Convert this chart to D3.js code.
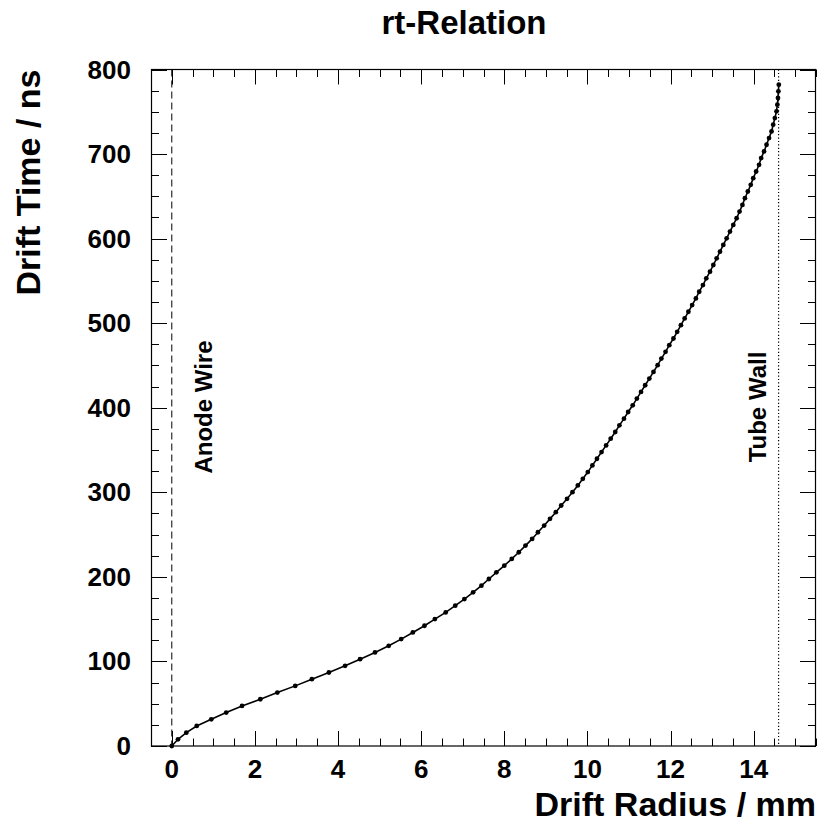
<!DOCTYPE html>
<html>
<head>
<meta charset="utf-8">
<script src="https://cdn.jsdelivr.net/npm/d3@7"></script>
<style>
  body { margin: 0; background: #fff; }
  svg { font-family: "Liberation Sans", Arial, Helvetica, sans-serif; font-weight: bold; }
</style>
</head>
<body>
<svg width="819" height="825"></svg>
<script>
// drift time samples (ns)
const driftTime = [
  0, 7.9, 15.8, 23.7, 31.6, 39.5, 47.4, 55.3, 63.2, 71.1,
  79.0, 86.9, 94.8, 102.7, 110.6, 118.5, 126.4, 134.3, 142.2, 150.1,
  158.0, 165.9, 173.8, 181.7, 189.6, 197.5, 205.4, 213.3, 221.2, 229.1,
  237.0, 244.9, 252.8, 260.7, 268.6, 276.5, 284.4, 292.3, 300.2, 308.1,
  316.0, 323.9, 331.8, 339.7, 347.6, 355.5, 363.4, 371.3, 379.2, 387.1,
  395.0, 402.9, 410.8, 418.7, 426.6, 434.5, 442.4, 450.3, 458.2, 466.1,
  474.0, 481.9, 489.8, 497.7, 505.6, 513.5, 521.4, 529.3, 537.2, 545.1,
  553.0, 560.9, 568.8, 576.7, 584.6, 592.5, 600.4, 608.3, 616.2, 624.1,
  632.0, 639.9, 647.8, 655.7, 663.6, 671.5, 679.4, 687.3, 695.2, 703.1,
  711.0, 718.9, 726.8, 734.7, 742.6, 750.5, 758.4, 766.3, 774.2, 782.1
];
// drift radius (mm)
const driftRadius = [
  0.00, 0.15, 0.35, 0.60, 0.95, 1.31, 1.69, 2.13, 2.54, 2.97,
  3.37, 3.78, 4.17, 4.53, 4.89, 5.22, 5.52, 5.80, 6.08, 6.33,
  6.59, 6.82, 7.04, 7.25, 7.45, 7.63, 7.81, 8.00, 8.18, 8.35,
  8.51, 8.67, 8.81, 8.96, 9.10, 9.24, 9.37, 9.51, 9.64, 9.77,
  9.89, 10.01, 10.12, 10.23, 10.34, 10.45, 10.56, 10.67, 10.77, 10.88,
  10.98, 11.09, 11.19, 11.29, 11.39, 11.49, 11.59, 11.69, 11.78, 11.88,
  11.97, 12.07, 12.16, 12.25, 12.34, 12.43, 12.52, 12.61, 12.69, 12.78,
  12.86, 12.95, 13.03, 13.11, 13.19, 13.27, 13.35, 13.43, 13.51, 13.59,
  13.66, 13.73, 13.79, 13.86, 13.93, 13.99, 14.06, 14.13, 14.18, 14.25,
  14.31, 14.37, 14.43, 14.47, 14.51, 14.55, 14.57, 14.585, 14.595, 14.605
];
const xTicks = [0, 2, 4, 6, 8, 10, 12, 14];
const yTicks = [0, 100, 200, 300, 400, 500, 600, 700, 800];
const anodeWire = 0;
const tubeWall = 14.6;

const svg = d3.select("svg");
const frameL = 151, frameR = 816, frameT = 69.5, frameB = 746;

const x = d3.scaleLinear().domain([-0.5, 15.5]).range([frameL, frameR]);
const y = d3.scaleLinear().domain([0, 800]).range([frameB, frameT]);

const data = driftTime.map((t, i) => ({ r: driftRadius[i], t: t }));

// minor / major ticks, drawn inward on all four sides
const xMinor = d3.range(-0.5, 15.51, 0.5);
const yMinor = d3.range(0, 800.1, 25);
const isMajorX = v => Math.abs(v / 2 - Math.round(v / 2)) < 1e-6;
const isMajorY = v => v % 100 === 0;

const ticks = svg.append("g").attr("stroke", "#000").attr("stroke-width", 1);
xMinor.forEach(v => {
  const len = isMajorX(v) ? 15 : 7.5;
  const px = Math.round(x(v)) + 0.5;
  ticks.append("line").attr("x1", px).attr("x2", px).attr("y1", frameB).attr("y2", frameB - len);
  ticks.append("line").attr("x1", px).attr("x2", px).attr("y1", frameT).attr("y2", frameT + len);
});
yMinor.forEach(v => {
  const len = isMajorY(v) ? 16 : 8;
  const py = Math.round(y(v)) + 0.5;
  ticks.append("line").attr("x1", frameL).attr("x2", frameL + len).attr("y1", py).attr("y2", py);
  ticks.append("line").attr("x1", frameR).attr("x2", frameR - len).attr("y1", py).attr("y2", py);
});

// frame
svg.append("rect")
  .attr("x", frameL + 0.5).attr("y", frameT)
  .attr("width", frameR - frameL - 1).attr("height", frameB - frameT)
  .attr("fill", "none").attr("stroke", "#000").attr("stroke-width", 1.2);

// tick labels
svg.append("g").selectAll("text").data(xTicks).enter().append("text")
  .attr("x", d => x(d)).attr("y", 778)
  .attr("text-anchor", "middle").attr("font-size", 26)
  .text(d => d);

svg.append("g").selectAll("text").data(yTicks).enter().append("text")
  .attr("x", 131).attr("y", d => y(d) + 9)
  .attr("text-anchor", "end").attr("font-size", 26)
  .text(d => d);

// reference lines
svg.append("line")
  .attr("x1", x(anodeWire)).attr("x2", x(anodeWire))
  .attr("y1", frameT).attr("y2", frameB)
  .attr("stroke", "#000").attr("stroke-width", 1).attr("stroke-dasharray", "7,4");

svg.append("line")
  .attr("x1", x(tubeWall)).attr("x2", x(tubeWall))
  .attr("y1", frameT).attr("y2", frameB)
  .attr("stroke", "#000").attr("stroke-width", 1.2).attr("stroke-dasharray", "1.2,2.2");

svg.append("text")
  .attr("transform", `translate(${x(anodeWire) + 40},407) rotate(-90)`)
  .attr("text-anchor", "middle").attr("font-size", 24)
  .text("Anode Wire");

svg.append("text")
  .attr("transform", `translate(${x(tubeWall) - 13},407) rotate(-90)`)
  .attr("text-anchor", "middle").attr("font-size", 24)
  .text("Tube Wall");

// curve
const line = d3.line().x(d => x(d.r)).y(d => y(d.t));
svg.append("path").datum(data)
  .attr("d", line)
  .attr("fill", "none").attr("stroke", "#000").attr("stroke-width", 1.6);

svg.append("g").selectAll("circle").data(data).enter().append("circle")
  .attr("cx", d => x(d.r)).attr("cy", d => y(d.t)).attr("r", 2.4)
  .attr("fill", "#000");

// titles
svg.append("text")
  .attr("x", 464).attr("y", 34)
  .attr("text-anchor", "middle").attr("font-size", 33)
  .text("rt-Relation");

svg.append("text")
  .attr("x", frameR).attr("y", 816)
  .attr("text-anchor", "end").attr("font-size", 34)
  .text("Drift Radius / mm");

svg.append("text")
  .attr("transform", `translate(40,${frameT}) rotate(-90)`)
  .attr("text-anchor", "end").attr("font-size", 34)
  .text("Drift Time / ns");
</script>
</body>
</html>
